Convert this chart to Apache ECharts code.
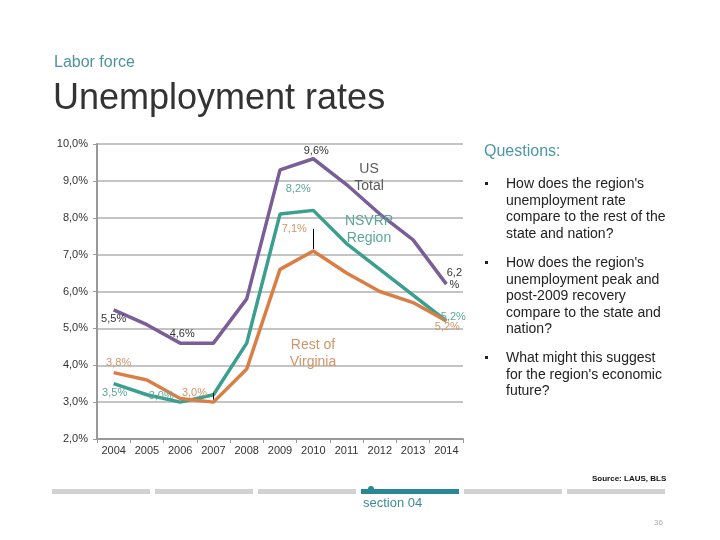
<!DOCTYPE html>
<html>
<head>
<meta charset="utf-8">
<script src="https://cdn.jsdelivr.net/npm/echarts@6/dist/echarts.min.js"></script>
<style>
html,body{margin:0;padding:0;background:#fff;}
#c{width:720px;height:540px;}
</style>
</head>
<body>
<div id="c"></div>
<script>
const years = ['2004','2005','2006','2007','2008','2009','2010','2011','2012','2013','2014'];
const usTotal = [5.5, 5.1, 4.6, 4.6, 5.8, 9.3, 9.6, 8.9, 8.1, 7.4, 6.2];
const nsvrp   = [3.5, 3.2, 3.0, 3.2, 4.6, 8.1, 8.2, 7.3, 6.6, 5.9, 5.2];
const restVA  = [3.8, 3.6, 3.1, 3.0, 3.9, 6.6, 7.1, 6.5, 6.0, 5.7, 5.2];
const yTicks = [2, 3, 4, 5, 6, 7, 8, 9, 10];

const fmt = v => v.toFixed(1).replace('.', ',') + '%';

const C_US = '#7a5e98', C_NS = '#3a9f8e', C_RV = '#d97f45';
const T_US = '#333333', T_NS = '#5aa898', T_RV = '#d49468';

// label placement per index (styles only)
const usLab = {0:[0,9], 2:[2,-9], 6:[3,-8], 10:[8,-5]};
const nsLab = {0:[1,9], 2:[-19,-6], 6:[-15,-21], 10:[7,-4]};
const rvLab = {0:[5,-10], 3:[-19,-9], 6:[-19,-22], 10:[1,6]};

function build(vals, labs, color, key){
  return vals.map((v,i)=>{
    const o = {value:v};
    if (labs[i]) {
      o.label = {show:true, position:'inside', offset:labs[i], color:color,
        fontSize:11, fontFamily:'Liberation Sans, Arial, sans-serif', lineHeight:12,
        formatter: (key==='us' && i===10) ? '6,2\n%' : fmt(v)};
    }
    return o;
  });
}

const axisFont = {fontSize:11, color:'#333', fontFamily:'Liberation Sans, Arial, sans-serif'};
const lineCommon = {type:'line', symbol:'circle', symbolSize:1, showSymbol:true, showAllSymbol:true,
  label:{show:false}, animation:false, z:3, emphasis:{disabled:true}};

const bracketStyle = {symbol:['none','none'], silent:true, animation:false, label:{show:false},
  lineStyle:{color:'#000', width:1, type:'solid'}, emphasis:{disabled:true}};

const chart = echarts.init(document.getElementById('c'), null, {renderer:'canvas'});

const bullets = [
  {y:184, text:"How does the region's\nunemployment rate\ncompare to the rest of the\nstate and nation?"},
  {y:263, text:"How does the region's\nunemployment peak and\npost-2009 recovery\ncompare to the state and\nnation?"},
  {y:358, text:"What might this suggest\nfor the region's economic\nfuture?"}
];

const barXs = [52, 155, 258, 361, 464, 567];
const F = '"Liberation Sans", Arial, sans-serif';
const graphics = [
  {type:'text', left:54, top:55, style:{text:'Labor force', fill:'#4f93a0', font:'16px '+F}},
  {type:'text', left:53, top:81, style:{text:'Unemployment rates', fill:'#333333', font:'36px '+F}},
  {type:'text', left:484, top:144, style:{text:'Questions:', fill:'#4a98a4', font:'16px '+F}},
  {type:'text', x:369, y:177.5, style:{text:'US\nTotal', fill:'#5a5a5a', font:'14px '+F, align:'center', verticalAlign:'middle', lineHeight:17}, z:10},
  {type:'text', x:369, y:229.5, style:{text:'NSVRP\nRegion', fill:T_NS, font:'14px '+F, align:'center', verticalAlign:'middle', lineHeight:17}, z:10},
  {type:'text', x:313, y:353.5, style:{text:'Rest of\nVirginia', fill:T_RV, font:'14px '+F, align:'center', verticalAlign:'middle', lineHeight:17}, z:10},
  {type:'text', left:592, top:475, style:{text:'Source: LAUS, BLS', fill:'#111', font:'bold 8px '+F}},
  {type:'text', left:654, top:519, style:{text:'36', fill:'#aaa', font:'8px '+F}},
  {type:'text', left:363, top:497, style:{text:'section 04', fill:'#3b8a95', font:'13px '+F}},
  {type:'circle', shape:{cx:371, cy:489, r:3}, style:{fill:'#2a8795'}}
];
bullets.forEach(b=>{
  graphics.push({type:'rect', shape:{x:485, y:b.y-2, width:3, height:3}, style:{fill:'#222'}});
  graphics.push({type:'text', left:506, top:b.y-8, style:{text:b.text, fill:'#222', font:'14px '+F, lineHeight:16.5}});
});
barXs.forEach((x,i)=>{
  graphics.push({type:'rect', shape:{x:x, y:489, width:98, height:5}, style:{fill: i===3 ? '#2a8795' : '#d2d2d2'}});
});

chart.setOption({
  animation:false,
  grid:{left:97, right:257, top:144, bottom:101, containLabel:false},
  xAxis:{type:'category', data:years, boundaryGap:true,
    axisLine:{lineStyle:{color:'#999', width:2}},
    axisTick:{show:true, length:4, lineStyle:{color:'#999'}},
    axisLabel:Object.assign({margin:6}, axisFont)},
  yAxis:{type:'value', min:yTicks[0], max:yTicks[yTicks.length-1], interval:1,
    axisLine:{show:true, lineStyle:{color:'#999', width:2}},
    axisTick:{show:true, length:4, lineStyle:{color:'#999'}},
    axisLabel:Object.assign({margin:9, formatter:fmt}, axisFont),
    splitLine:{show:true, lineStyle:{color:'#c4c4c4', width:2}}},
  series:[
    Object.assign({}, lineCommon, {name:'US Total', data:build(usTotal, usLab, T_US, 'us'),
      lineStyle:{width:3.5, color:C_US}, itemStyle:{color:'rgba(0,0,0,0)', borderWidth:0}}),
    Object.assign({}, lineCommon, {name:'NSVRP Region', data:build(nsvrp, nsLab, T_NS, 'ns'),
      lineStyle:{width:3.5, color:C_NS}, itemStyle:{color:'rgba(0,0,0,0)', borderWidth:0}}),
    Object.assign({}, lineCommon, {name:'Rest of Virginia', data:build(restVA, rvLab, T_RV, 'rv'),
      lineStyle:{width:3.5, color:C_RV}, itemStyle:{color:'rgba(0,0,0,0)', borderWidth:0},
      markLine:Object.assign({}, bracketStyle, {data:[
        [{coord:[5.88, 7.7]}, {coord:[6, 7.7]}],
        [{coord:[6, 7.7]}, {coord:[6, 7.15]}],
        [{coord:[2.88, 3.25]}, {coord:[3, 3.25]}],
        [{coord:[3, 3.25]}, {coord:[3, 3.07]}]
      ]})})
  ],
  graphic:graphics
});
</script>
</body>
</html>
